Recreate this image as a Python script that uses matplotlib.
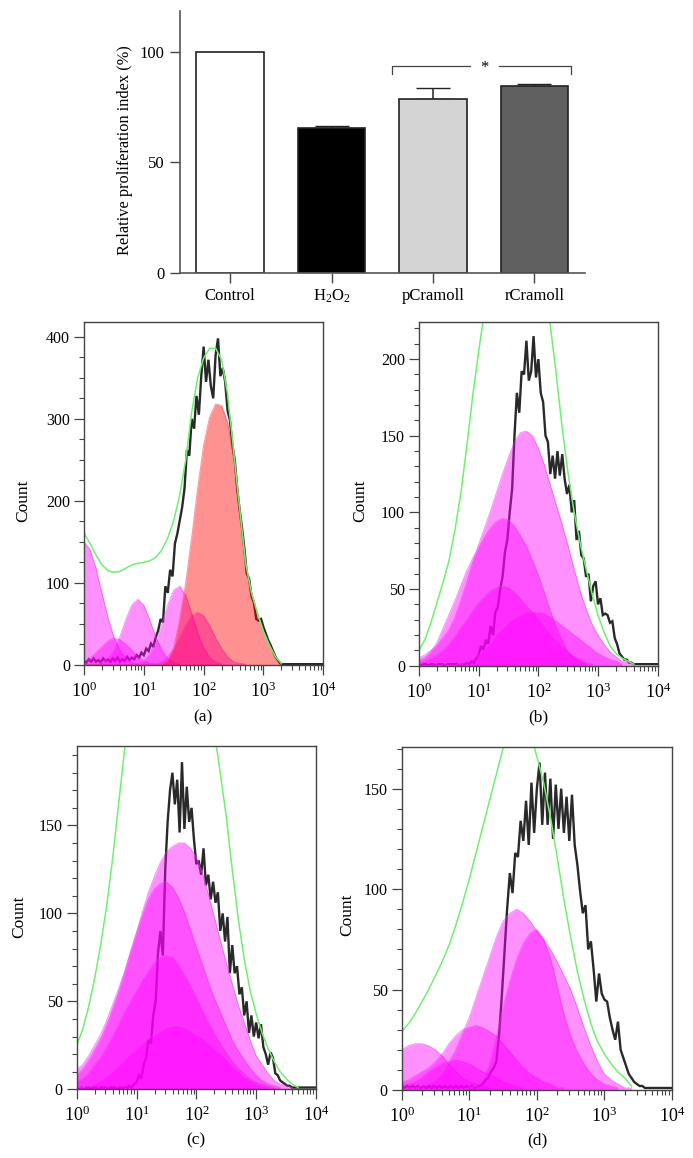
#!/usr/bin/env python3
"""Proliferation bars and four flow cytometry histograms with fitted peaks."""

import matplotlib
matplotlib.use("Agg")
import matplotlib.pyplot as plt
import matplotlib.ticker as mticker
import numpy as np

plt.rcParams["font.family"] = ["Liberation Serif", "DejaVu Serif"]
plt.rcParams["mathtext.fontset"] = "custom"
plt.rcParams["mathtext.rm"] = "Liberation Serif"
plt.rcParams["mathtext.it"] = "Liberation Serif:italic"
plt.rcParams["mathtext.default"] = "regular"

W, H = 693, 1158

# ---------------------------------------------------------------------------
# Data
# ---------------------------------------------------------------------------

groups = ["Control", "H$_2$O$_2$", "pCramoll", "rCramoll"]
index_mean = [100, 65.3, 78.7, 84.3]
index_top = [100, 66.5, 83.7, 85.5]

# x positions in decades, shared by all panels
curve_log = [0.0, 0.1, 0.2, 0.3, 0.4, 0.5, 0.6, 0.7, 0.8, 0.9,
             1.0, 1.1, 1.2, 1.3, 1.4, 1.5, 1.6, 1.7, 1.8, 1.9,
             2.0, 2.1, 2.2, 2.3, 2.4, 2.5, 2.6, 2.7, 2.8, 2.9,
             3.0, 3.1, 3.2, 3.3, 3.4, 3.5, 3.6, 3.7, 3.8, 3.9, 4.0]
trace_log = [0.00, 0.04, 0.08, 0.12, 0.16, 0.20, 0.24, 0.28, 0.32, 0.36,
             0.40, 0.44, 0.48, 0.52, 0.56, 0.60, 0.64, 0.68, 0.72, 0.76,
             0.80, 0.84, 0.88, 0.92, 0.96, 1.00, 1.04, 1.08, 1.12, 1.16,
             1.20, 1.24, 1.28, 1.32, 1.36, 1.40, 1.44, 1.48, 1.52, 1.56,
             1.60, 1.64, 1.68, 1.72, 1.76, 1.80, 1.84, 1.88, 1.92, 1.96,
             2.00, 2.04, 2.08, 2.12, 2.16, 2.20, 2.24, 2.28, 2.32, 2.36,
             2.40, 2.44, 2.48, 2.52, 2.56, 2.60, 2.64, 2.68, 2.72, 2.76,
             2.80, 2.84, 2.88, 2.92, 2.96, 3.00, 3.04, 3.08, 3.12, 3.16,
             3.20, 3.24, 3.28, 3.32, 3.36, 3.40, 3.44, 3.48, 3.52, 3.56,
             3.60, 3.64, 3.68, 3.72, 3.76, 3.80, 3.84, 3.88, 3.92, 3.96, 4.00]

a_peak1 = [150, 141, 118, 88, 58, 34, 18, 8, 3, 1]
a_peak2 = [4, 8, 15, 22, 29, 33, 31, 25, 18, 10, 5, 2, 1]
a_peak3 = [0, 0, 1, 3, 8, 18, 34, 55, 73, 80, 73, 55, 34, 18, 8, 3, 1]
a_peak4 = [0] * 9 + [2, 5, 13, 27, 49, 73, 91, 96, 85, 63, 39, 21, 9, 4, 1]
a_peak5 = [0] * 12 + [2, 4, 10, 20, 33, 48, 60, 64, 60, 48, 33, 20, 10, 4, 2, 1]
a_red = [0] * 13 + [1, 5, 20, 55, 100, 155, 215, 268, 302, 318, 316, 296, 254,
                    190, 125, 88, 63, 41, 24, 10, 2]
a_green = [161, 148, 134, 122, 115, 113, 114, 118, 122, 124, 125, 127, 131, 140,
           155, 176, 207, 250, 308, 350, 374, 386, 386, 372, 330, 262, 192, 125,
           88, 63, 41, 24, 10, 2]
a_black = [5, 3, 7, 4, 8, 4, 6, 3, 8, 5, 7,
           4, 8, 5, 9, 4, 7, 5, 10, 6, 9,
           7, 12, 9, 15, 12, 20, 17, 26, 22, 34,
           42, 56, 52, 96, 88, 116, 108, 148, 160, 176,
           192, 215, 262, 255, 300, 288, 328, 305, 352, 388,
           345, 372, 340, 325, 378, 398, 352, 362, 345, 310,
           298, 268, 250, 216, 190, 168, 142, 112, 105, 84,
           76, 56, 54, 56, 46, 38, 30, 24, 17, 10,
           6, 2, 1, 1, 1, 1, 1, 1, 1, 1,
           1, 1, 1, 1, 1, 1, 1, 1, 1, 1]

b_peak1 = [5, 7, 10, 13, 18, 23, 31, 42, 54, 67, 79, 90, 101, 113, 125, 136, 146,
           152, 153, 150, 142, 131, 118, 105, 92, 78, 63, 49, 37, 27, 20, 14, 9,
           6, 3, 2, 1]
b_peak2 = [3, 5, 9, 15, 24, 33, 42, 52, 62, 70, 77, 84, 90, 94, 96, 95, 91, 85,
           78, 69, 59, 48, 36, 25, 16, 9, 5, 3, 1]
b_peak3 = [2, 3, 5, 7, 10, 14, 19, 25, 30, 36, 41, 45, 49, 51, 52, 51, 48, 44,
           39, 35, 30, 25, 20, 16, 12, 9, 6, 4, 2, 1]
b_peak4 = [0] * 7 + [1, 2, 4, 7, 11, 15, 20, 24, 28, 31, 33, 35, 35, 35, 34, 32,
                     29, 26, 23, 20, 17, 14, 11, 8, 6, 4, 3, 1]
b_green = [10, 17, 28, 41, 54, 68, 88, 112, 143, 176, 205, 232, 262, 290, 312,
           328, 335, 335, 325, 305, 280, 252, 222, 190, 155, 125, 100, 80, 63,
           47, 33, 22, 13, 8, 5, 3, 1]
b_black = [1, 0, 1, 1, 0, 1, 1, 0, 1, 1, 1, 0, 1, 1, 1, 1, 1, 0, 1, 1, 2,
           1, 3, 2, 5, 7, 13, 10, 17, 14, 26,
           20, 35, 38, 50, 58, 74, 82, 100, 115, 150,
           178, 165, 192, 190, 212, 186, 192, 215, 188, 200,
           178, 172, 150, 146, 125, 137, 122, 140, 124, 138,
           122, 112, 118, 100, 108, 82, 88, 72, 70, 58,
           60, 42, 52, 55, 40, 44, 33, 34, 33, 28,
           29, 18, 14, 8, 6, 4, 4, 2, 2, 1,
           1, 1, 1, 1, 1, 1, 1, 1, 1, 1]

c_peak1 = [11, 14, 19, 25, 31, 39, 48, 57, 67, 78, 89, 101, 112, 121, 129, 135,
           138, 140, 140, 137, 132, 123, 111, 98, 85, 72, 60, 48, 38, 28, 19, 14,
           9, 5, 3, 2, 1]
c_peak2 = [8, 11, 16, 22, 28, 36, 45, 55, 66, 78, 89, 99, 108, 114, 117, 118,
           115, 109, 101, 91, 81, 71, 61, 52, 44, 36, 28, 22, 17, 12, 8, 5, 3, 2, 1]
c_peak3 = [4, 6, 9, 14, 18, 24, 30, 37, 44, 50, 56, 62, 67, 72, 75, 76, 75, 71,
           65, 59, 52, 45, 38, 32, 26, 21, 16, 12, 9, 6, 4, 3, 2, 1]
c_peak4 = [1, 1, 2, 3, 5, 7, 10, 13, 17, 20, 23, 26, 29, 31, 33, 35, 36, 36, 35,
           33, 31, 29, 26, 23, 20, 17, 13, 10, 7, 5, 3, 2, 1]
c_green = [25, 34, 47, 63, 82, 104, 131, 162, 193, 225, 255, 280, 300, 315, 325,
           330, 330, 325, 315, 300, 280, 255, 228, 203, 180, 155, 125, 97, 74,
           56, 43, 32, 23, 16, 10, 6, 3, 1]
c_black = [1, 0, 1, 0, 1, 1, 0, 1, 1, 0, 1, 1, 1, 0, 1, 1, 1, 0, 1, 1, 1, 1, 2,
           1, 3, 4, 8, 6, 14, 18, 28,
           26, 42, 50, 78, 90, 76, 125, 152, 170, 180,
           162, 176, 146, 186, 148, 172, 152, 160, 142, 128,
           130, 122, 137, 116, 122, 108, 118, 106, 112, 90,
           100, 84, 98, 66, 82, 66, 70, 54, 58, 42,
           50, 32, 42, 30, 38, 29, 37, 24, 20, 14,
           21, 18, 9, 8, 5, 4, 3, 2, 2, 1,
           1, 1, 1, 1, 1, 1, 1, 1, 1, 1]

d_peak1 = [20, 22, 23, 23, 22, 20, 17, 13, 9, 6, 4, 3, 2, 1]
d_peak2 = [2, 3, 4, 6, 9, 11, 13, 14, 15, 14, 13, 11, 9, 8, 6, 4, 3, 2, 1]
d_peak3 = [4, 5, 7, 9, 11, 14, 18, 23, 27, 30, 31, 32, 31, 29, 27, 23, 19, 15,
           11, 8, 6, 4, 3, 1, 1]
d_peak4 = [0, 1, 1, 2, 3, 5, 8, 14, 20, 28, 36, 46, 56, 66, 76, 84, 88, 90, 88,
           84, 79, 75, 70, 64, 57, 50, 41, 31, 22, 14, 8, 5, 3, 1, 1]
d_peak5 = [0] * 10 + [1, 2, 5, 13, 26, 41, 54, 65, 73, 78, 80, 75, 66, 52, 38,
                      27, 19, 13, 8, 5, 3, 2, 1]
d_green = [29, 33, 38, 44, 50, 57, 64, 72, 82, 93, 105, 118, 131, 144, 157, 170,
           180, 186, 185, 178, 166, 153, 136, 116, 95, 76, 59, 45, 33, 24, 18,
           13, 9, 6, 2]
d_black = [2, 1, 2, 1, 2, 1, 2, 1, 2, 1, 2, 1, 2, 1, 2,
           1, 2, 1, 2, 1, 2, 1, 2, 1, 2, 1, 2, 1, 2, 2,
           3, 5, 6, 9, 11, 14, 27, 46, 68, 90, 108,
           98, 118, 116, 134, 124, 144, 122, 153, 128, 150,
           163, 132, 158, 132, 155, 125, 152, 130, 150, 128,
           146, 124, 147, 122, 112, 99, 88, 92, 70, 74,
           60, 44, 58, 48, 45, 44, 36, 30, 25, 34,
           20, 16, 12, 8, 6, 4, 3, 2, 2, 1,
           1, 1, 1, 1, 1, 1, 1, 1, 1, 1]

# ---------------------------------------------------------------------------
# Helpers
# ---------------------------------------------------------------------------

fig = plt.figure(figsize=(W / 100, H / 100), dpi=100, facecolor="white")


def px_axes(left, top, right, bottom):
    """Axes from pixel edges measured from the top-left of the picture."""
    return fig.add_axes([left / W, 1 - bottom / H, (right - left) / W, (bottom - top) / H])


def px_text(x, y, s, **kw):
    fig.text(x / W, 1 - y / H, s, ha="center", va="center", **kw)


def peak(ax, values, fill="#ff00ff", edge="#e040e0"):
    x = 10 ** np.array(curve_log[:len(values)])
    ax.fill_between(x, values, 0, color=fill, alpha=0.43, linewidth=0, zorder=3)
    ax.plot(x, values, color=edge, linewidth=0.8, alpha=0.5, zorder=3)


def histogram(box, ymax, yticks, yminor, peaks, green, black, red=None):
    ax = px_axes(*box)
    ax.set_xscale("log")
    ax.set_xlim(1, 1e4)
    ax.set_ylim(0, ymax)

    ax.plot(10 ** np.array(trace_log[:len(black)]), black, color="#111111",
            linewidth=1.7, alpha=0.9, zorder=2, solid_joinstyle="miter")
    for values in peaks:
        peak(ax, values)
    if red is not None:
        peak(ax, red, fill="#ff0000", edge="#f04050")
    ax.plot(10 ** np.array(curve_log[:len(green)]), green, color="#70f070",
            linewidth=1.1, zorder=4)

    ax.set_yticks(yticks)
    ax.yaxis.set_minor_locator(mticker.MultipleLocator(yminor))
    ax.xaxis.set_major_locator(mticker.LogLocator(base=10, numticks=6))
    ax.xaxis.set_minor_locator(mticker.LogLocator(base=10, subs=range(2, 10), numticks=6))
    ax.xaxis.set_minor_formatter(mticker.NullFormatter())
    ax.tick_params(axis="both", which="major", length=7, width=0.9, color="#444444",
                   labelsize=11.5, pad=3)
    ax.tick_params(axis="both", which="minor", length=3.5, width=0.8, color="#444444")
    ax.tick_params(axis="x", which="major", labelsize=13, pad=5)
    for spine in ax.spines.values():
        spine.set_color("#444444")
        spine.set_linewidth(1.0)
        spine.set_zorder(6)
    return ax


# ---------------------------------------------------------------------------
# Bar chart
# ---------------------------------------------------------------------------

ax = px_axes(179.5, 11, 585, 272.7)
pos = np.arange(len(groups))
ax.bar(pos, index_mean, width=0.665, color=["white", "black", "#d4d4d4", "#606060"],
       edgecolor="#222222", linewidth=1.2, zorder=2)
err = np.array(index_top) - np.array(index_mean)
ax.errorbar(pos[1:], index_mean[1:], yerr=[np.zeros(3), err[1:]], fmt="none",
            ecolor="#222222", elinewidth=1.1, capsize=12, capthick=1.0, zorder=1)
ax.set_xlim(-0.5, 3.5)
ax.set_ylim(0, 118.4)
ax.set_xticks(pos)
ax.set_xticklabels(groups, fontsize=12)
ax.set_yticks([0, 50, 100])
ax.tick_params(axis="both", length=7, width=1.0, color="#444444", labelsize=12, pad=4)
for side in ("top", "right"):
    ax.spines[side].set_visible(False)
for side in ("left", "bottom"):
    ax.spines[side].set_color("#555555")
    ax.spines[side].set_linewidth(1.2)
ax.plot([1.60, 1.60, 2.37], [89.9, 93.4, 93.4], color="#444444", linewidth=0.9)
ax.plot([2.65, 3.36, 3.36], [93.6, 93.6, 89.9], color="#444444", linewidth=0.9)
ax.text(2.51, 92.6, "*", ha="center", va="center", fontsize=12)
px_text(125, 150, "Relative proliferation index (%)", rotation=90, fontsize=11.8)

# ---------------------------------------------------------------------------
# Histograms
# ---------------------------------------------------------------------------

histogram((84, 322, 323.3, 665), 418, [0, 100, 200, 300, 400], 25,
          [a_peak1, a_peak2, a_peak3, a_peak4, a_peak5], a_green, a_black, red=a_red)
histogram((419, 322.3, 657.7, 665.7), 224, [0, 50, 100, 150, 200], 10,
          [b_peak1, b_peak2, b_peak3, b_peak4], b_green, b_black)
histogram((76.7, 746.3, 316, 1089.3), 195, [0, 50, 100, 150], 10,
          [c_peak1, c_peak2, c_peak3, c_peak4], c_green, c_black)
histogram((401.7, 747.3, 672, 1090), 170.6, [0, 50, 100, 150], 10,
          [d_peak1, d_peak2, d_peak3, d_peak4, d_peak5], d_green, d_black)

for x, y in [(23, 500.7), (360, 500.7), (19, 917), (347, 915)]:
    px_text(x, y, "Count", rotation=90, fontsize=12.5)
for x, y, s in [(203, 717, "(a)"), (538, 717, "(b)"), (196, 1140, "(c)"), (537, 1140, "(d)")]:
    px_text(x, y, s, fontsize=12.5)

fig.savefig("out.png", dpi=100, facecolor="white")
plt.close(fig)
